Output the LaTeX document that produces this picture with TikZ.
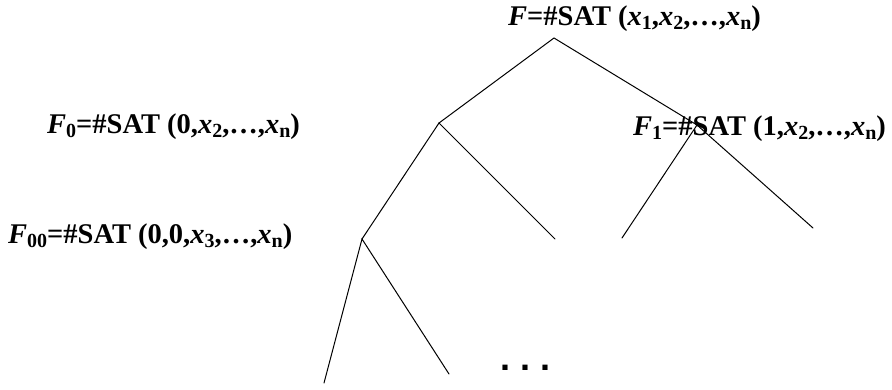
\documentclass[tikz,border=0pt]{standalone}
\usepackage{fontspec}
\setmainfont{Liberation Serif}
\setsansfont{Liberation Sans}
\usepackage{tikz}
\usetikzlibrary{positioning}
\newcommand{\satfont}{\fontsize{28.5}{32}\selectfont\bfseries}
\newcommand{\vf}[1]{\textit{#1}}
\newcommand{\idx}[1]{\raisebox{-4.5pt}{\fontsize{20}{20}\selectfont #1}}
\tikzset{
  satlabel/.style={
    font=\satfont, inner sep=0pt, anchor=base west
  },
  branch/.style={
    draw=black, line width=1pt, line cap=round
  },
  dotsnode/.style={
    font=\fontsize{36}{40}\selectfont\sffamily\bfseries,
    inner sep=0pt, anchor=base
  },
}

\begin{document}
\begin{tikzpicture}[x=1pt, y=-1pt]
  \useasboundingbox (0,0) rectangle (892,389);

  % Tree vertices
  \coordinate (r)   at (554,38);
  \coordinate (n0)  at (439,123);
  \coordinate (n1)  at (697,125);
  \coordinate (n00) at (362,239);
  \coordinate (n01) at (555,239);
  \coordinate (n10) at (622,238);
  \coordinate (n11) at (813,228);
  \coordinate (n000) at (324,383);
  \coordinate (n001) at (449,374);

  % Branches
  \draw[branch] (n0) -- (r) -- (n1);
  \draw[branch] (n00) -- (n0) -- (n01);
  \draw[branch] (n10) -- (n1) -- (n11);
  \draw[branch] (n000) -- (n00) -- (n001);

  % Labels
  \node[satlabel] (lr) at (508,25)
    {\vf{F}=\#SAT (\vf{x}\idx{1},\vf{x}\idx{2},\dots,\vf{x}\idx{n})};
  \node[satlabel] (l0) at (47,133)
    {\vf{F}\idx{0}=\#SAT (0,\vf{x}\idx{2},\dots,\vf{x}\idx{n})};
  \node[satlabel] (l1) at (633,135)
    {\vf{F}\idx{1}=\#SAT (1,\vf{x}\idx{2},\dots,\vf{x}\idx{n})};
  \node[satlabel] (l00) at (8,243)
    {\vf{F}\idx{00}=\#SAT (0,0,\vf{x}\idx{3},\dots,\vf{x}\idx{n})};

  % More branches below
  \node[dotsnode] (more) at (525.5,370) {.\hspace{10pt}.\hspace{10pt}.};
\end{tikzpicture}
\end{document}
